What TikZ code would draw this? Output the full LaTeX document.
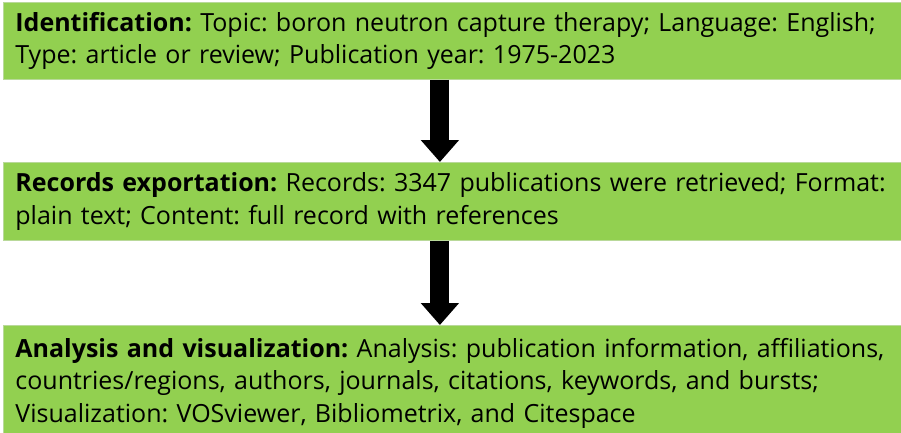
\documentclass[tikz,border=0pt]{standalone}
\usepackage{fontspec}
\setmainfont{Open Sans}
\frenchspacing
\usetikzlibrary{arrows.meta}
\definecolor{boxgreen}{HTML}{92D050}
\definecolor{boxedge}{HTML}{B9D99A}
\begin{document}
\begin{tikzpicture}[x=1pt,y=-1pt,
  stage/.style={rectangle, fill=boxgreen, draw=boxedge, line width=0.8pt,
    anchor=north west, inner xsep=12pt, inner ysep=0pt,
    text width=874pt, align=left,
    font=\fontsize{25}{32.5}\selectfont},
  flowarrow/.style={line width=19pt, draw=black,
    -{Triangle[width=37pt,length=22pt]}}]
\useasboundingbox (0,0) rectangle (901,432);
\clip (0,0) rectangle (901,432);
\node[stage, minimum height=77pt] (ident) at (3,2)
  {\textbf{Identification:} Topic: boron neutron capture therapy; Language: English;\\
   Type: article or review; Publication year: 1975-2023};
\node[stage, minimum height=78pt] (export) at (3,162)
  {\textbf{Records exportation:} Records: 3347 publications were retrieved; Format:\\
   plain text; Content: full record with references};
\node[stage, minimum height=116pt] (analysis) at (3,325)
  {\textbf{Analysis and visualization:} Analysis: publication information, affiliations,\\
   countries/regions, authors, journals, citations, keywords, and bursts;\\
   Visualization: VOSviewer, Bibliometrix, and Citespace};
\draw[flowarrow] ([xshift=-12.5pt]ident.south) -- ([xshift=-12.5pt]export.north);
\draw[flowarrow] ([xshift=-12.5pt]export.south) -- ([xshift=-12.5pt]analysis.north);
\end{tikzpicture}
\end{document}
